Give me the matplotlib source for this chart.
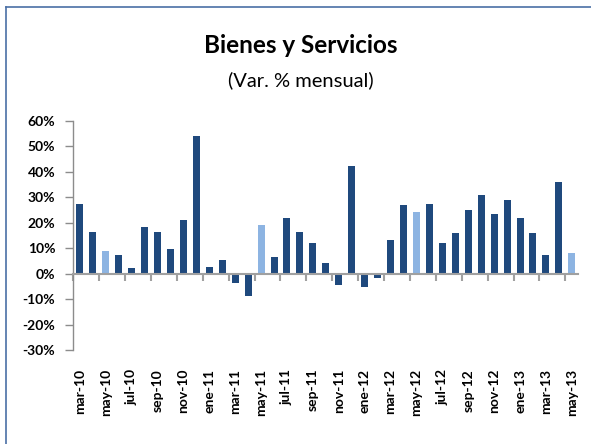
import matplotlib
matplotlib.use("Agg")
import matplotlib.pyplot as plt
from matplotlib.lines import Line2D
import numpy as np

months = ["mar-10", "abr-10", "may-10", "jun-10", "jul-10", "ago-10", "sep-10", "oct-10", "nov-10", "dic-10",
          "ene-11", "feb-11", "mar-11", "abr-11", "may-11", "jun-11", "jul-11", "ago-11", "sep-11", "oct-11", "nov-11", "dic-11",
          "ene-12", "feb-12", "mar-12", "abr-12", "may-12", "jun-12", "jul-12", "ago-12", "sep-12", "oct-12", "nov-12", "dic-12",
          "ene-13", "feb-13", "mar-13", "abr-13", "may-13"]
values = [27.5, 16.5, 9.1, 7.2, 2.1, 18.5, 16.5, 9.5, 21.2, 54.0,
          2.5, 5.2, -3.6, -8.7, 19.3, 6.4, 22.0, 16.5, 12.2, 4.0, -4.4, 42.3,
          -5.2, -1.7, 13.4, 27.1, 24.3, 27.5, 12.2, 16.1, 25.1, 31.0, 23.6, 29.0,
          22.0, 16.1, 7.2, 36.0, 8.3]
highlight = ["may-10", "may-11", "may-12", "may-13"]
yticks = [-30, -20, -10, 0, 10, 20, 30, 40, 50, 60]

dark = "#1F497D"
light = "#8DB4E2"
plt.rcParams['font.family'] = ["Lato", "DejaVu Sans"]

fig = plt.figure(figsize=(5.91, 4.44), dpi=100)
ax = fig.add_axes([73.3/591, 1-350/444, (578.3-73.3)/591, (350-121)/444])

x = np.arange(len(months))
colors = [light if m in highlight else dark for m in months]
ax.bar(x, values, width=0.54, color=colors, zorder=3)

ax.set_xlim(-0.5, len(months) - 0.5)
ax.set_ylim(-30, 60)
ax.set_yticks(yticks)
ax.set_yticklabels([f"{v}%" for v in yticks], fontsize=10, fontweight="bold")
ax.tick_params(axis="y", direction="out", length=6, color="#8C8C8C", width=1, pad=7)

for s in ["top", "right"]:
    ax.spines[s].set_visible(False)
ax.spines["left"].set_color("#8C8C8C")
ax.spines["left"].set_linewidth(1)
ax.spines["bottom"].set_position(("data", 0))
ax.spines["bottom"].set_color("#A0A0A0")
ax.spines["bottom"].set_linewidth(1.5)
ax.spines["bottom"].set_zorder(4)
ax.set_xticks(np.arange(-0.5, len(months) - 0.5, 2))
ax.set_xticklabels([])
ax.tick_params(axis="x", direction="out", length=5, color="#A0A0A0", width=1.5)

sec = ax.secondary_xaxis("bottom")
sec.set_xticks(x[::2])
sec.set_xticklabels(months[::2], rotation=90, fontsize=10, fontweight="bold")
sec.tick_params(length=0, pad=13.5)
sec.spines["bottom"].set_visible(False)

fig.text(0.509, 0.880, "Bienes y Servicios", ha="center", va="baseline", fontsize=17.5, fontweight="bold")
fig.text(0.509, 0.805, "(Var. % mensual)", ha="center", va="baseline", fontsize=14.5)

fig.add_artist(Line2D([6/591, 6/591], [0, 1-7/444], transform=fig.transFigure, color="#4A6FA5", lw=1.2))
fig.add_artist(Line2D([6/591, 1], [1-7/444, 1-7/444], transform=fig.transFigure, color="#4A6FA5", lw=1.2))

fig.savefig("out.png", dpi=100)
